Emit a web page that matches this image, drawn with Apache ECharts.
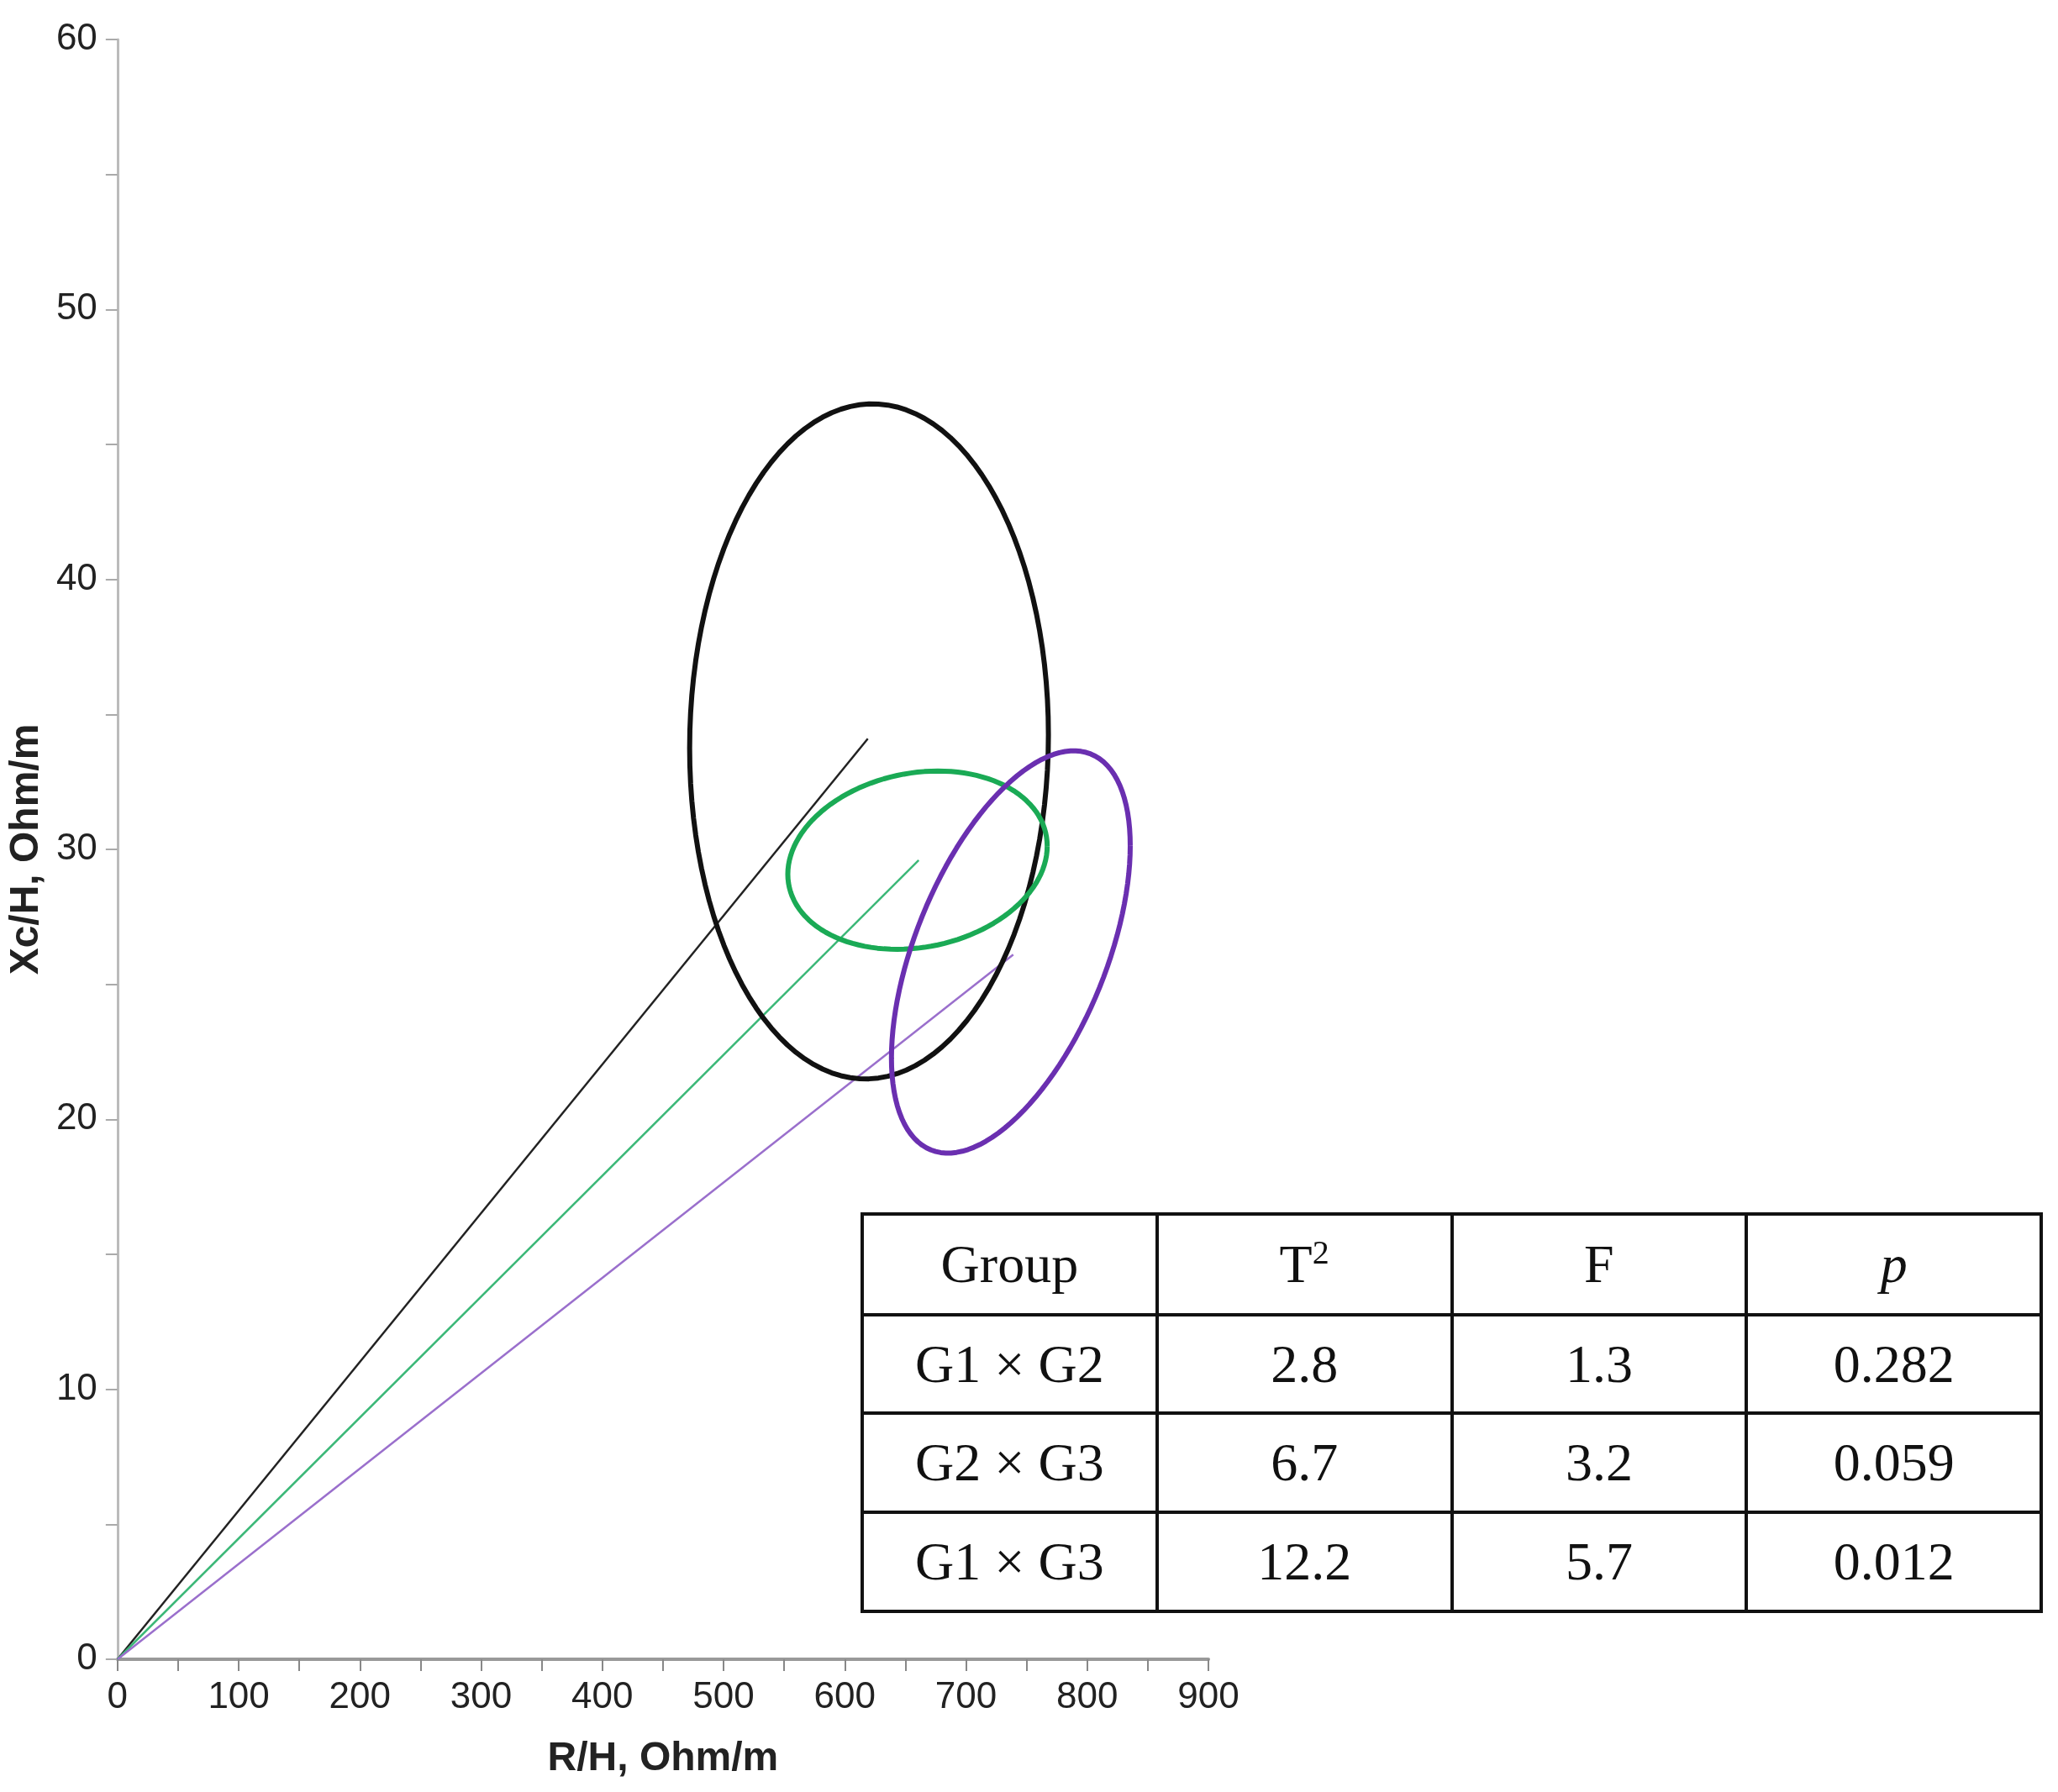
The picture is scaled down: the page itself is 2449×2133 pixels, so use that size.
<!DOCTYPE html>
<html>
<head>
<meta charset="utf-8">
<script src="https://cdn.jsdelivr.net/npm/echarts@6/dist/echarts.min.js"></script>
<style>
  html, body { margin: 0; padding: 0; background: #fff; }
  #chart { width: 2449px; height: 2133px; }
  #stats {
    position: absolute; left: 1024px; top: 1443px; width: 1407px; height: 477px;
    border-collapse: collapse; font-family: 'Liberation Serif', serif; font-size: 64px; color: #111;
  }
  #stats td { border: 4px solid #111; text-align: center; width: 25%; }
</style>
</head>
<body>
<div id="chart"></div>
<table id="stats"><tbody id="js-stats-tbody"></tbody></table>
<script>
// group names, mean point (R/H, Xc/H) and ellipse shape [ux, uy, vx, vy]
const groups = ['G1', 'G2', 'G3']
const colors = ['#111111', '#1aaa55', '#6a2fb0']
const lineColors = ['#222222', '#3cb878', '#9a6fcc']
const centers = [[619, 34.1], [661, 29.6], [739, 26.1]]
const ellCenters = [[620, 34.0], [660, 29.6], [737, 26.2]]
const ellAxes = [[148, 0.25, 0, 12.5], [107, 0.52, 0, 3.26], [98.5, 3.93, 0, 6.33]]

// table
const header = ['Group', 'T<sup style="font-size:40px">2</sup>', 'F', '<i>p</i>']
const pairs = ['G1 × G2', 'G2 × G3', 'G1 × G3']
const t2 = ['2.8', '6.7', '12.2']
const fVal = ['1.3', '3.2', '5.7']
const pVal = ['0.282', '0.059', '0.012']

let body = '<tr>' + header.map(h => `<td>${h}</td>`).join('') + '</tr>'
pairs.forEach((p, i) => {
  body += `<tr><td>${p}</td><td>${t2[i]}</td><td>${fVal[i]}</td><td>${pVal[i]}</td></tr>`
})
document.getElementById('js-stats-tbody').innerHTML = body

function ellipsePoints (c, a) {
  const pts = []
  for (let k = 0; k <= 120; k++) {
    const t = k / 120 * Math.PI * 2
    pts.push([c[0] + a[0] * Math.cos(t) + a[2] * Math.sin(t), c[1] + a[1] * Math.cos(t) + a[3] * Math.sin(t)])
  }
  return pts
}

const series = []
groups.forEach((g, i) => {
  series.push({
    name: g + ' mean', type: 'line', data: [[0, 0], centers[i]], symbol: 'none',
    lineStyle: { color: lineColors[i], width: 2.5 }, z: 2
  })
  series.push({
    name: g, type: 'line', data: ellipsePoints(ellCenters[i], ellAxes[i]), symbol: 'none',
    smooth: false, lineStyle: { color: colors[i], width: 6 }, z: 3
  })
})

const chart = echarts.init(document.getElementById('chart'))
const axisLabel = { color: '#222', fontSize: 44, fontFamily: 'Liberation Sans' }
chart.setOption({
  animation: false,
  grid: { left: 132, right: 1011, top: 47, bottom: 158 },
  xAxis: {
    type: 'value', min: 0, max: 900, interval: 100,
    name: 'R/H, Ohm/m', nameLocation: 'middle', nameGap: 95,
    nameTextStyle: { fontSize: 48, fontWeight: 'bold', color: '#222', fontFamily: 'Liberation Sans' },
    axisLine: { show: true, lineStyle: { color: '#999', width: 4 } },
    axisTick: { show: true, length: 14, lineStyle: { color: '#888', width: 2 } },
    minorTick: { show: true, splitNumber: 2, length: 14, lineStyle: { color: '#888', width: 2 } },
    splitLine: { show: false },
    axisLabel: Object.assign({ margin: 24 }, axisLabel)
  },
  yAxis: {
    type: 'value', min: 0, max: 60, interval: 10,
    name: 'Xc/H, Ohm/m', nameLocation: 'middle', nameGap: 70,
    nameTextStyle: { fontSize: 48, fontWeight: 'bold', color: '#222', fontFamily: 'Liberation Sans' },
    axisLine: { show: true, lineStyle: { color: '#bbb', width: 3 } },
    axisTick: { show: true, length: 14, lineStyle: { color: '#aaa', width: 2 } },
    minorTick: { show: true, splitNumber: 2, length: 14, lineStyle: { color: '#aaa', width: 2 } },
    splitLine: { show: false },
    axisLabel: Object.assign({ margin: 24 }, axisLabel)
  },
  series: series
})
</script>
</body>
</html>
